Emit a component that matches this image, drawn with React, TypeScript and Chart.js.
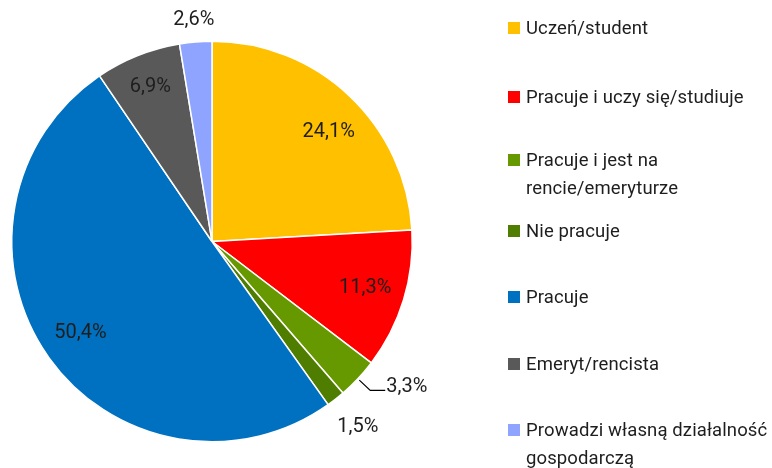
import React, { useEffect, useRef } from "react";
import { Chart, registerables } from "chart.js";

Chart.register(...registerables);

const categories = [
  "Uczeń/student",
  "Pracuje i uczy się/studiuje",
  "Pracuje i jest na rencie/emeryturze",
  "Nie pracuje",
  "Pracuje",
  "Emeryt/rencista",
  "Prowadzi własną działalność gospodarczą",
];
const legendLines = [
  ["Uczeń/student"],
  ["Pracuje i uczy się/studiuje"],
  ["Pracuje i jest na", "rencie/emeryturze"],
  ["Nie pracuje"],
  ["Pracuje"],
  ["Emeryt/rencista"],
  ["Prowadzi własną działalność", "gospodarczą"],
];
const values = [24.1, 11.3, 3.3, 1.5, 50.4, 6.9, 2.6];
const valueLabels = ["24,1%", "11,3%", "3,3%", "1,5%", "50,4%", "6,9%", "2,6%"];
const colors = ["#FFC000", "#FF0000", "#669900", "#4E7D00", "#0070C0", "#595959", "#8EA4FF"];

// layout (styles), not data
const labelRadius = [0.8, 0.8, 0, 1.18, 0.8, 0.83, 1.11];
const labelAngleShift = [0.06, 0, 0, 0, 0, 0, 0];
const leaderIndex = 2;
const legendTops = [14, 83, 146, 217, 283, 350, 416];
const FONT = "Roboto, 'Open Sans', sans-serif";
const TEXT = "#1E1E1E";

const labelPlugin = {
  id: "sliceLabels",
  afterDatasetsDraw(chart: any) {
    const ctx = chart.ctx;
    const meta = chart.getDatasetMeta(0);
    ctx.save();
    ctx.font = `20px ${FONT}`;
    ctx.fillStyle = TEXT;
    ctx.textBaseline = "middle";
    meta.data.forEach((el: any, i: number) => {
      const p = el.getProps(["x", "y", "startAngle", "endAngle", "outerRadius"], true);
      const mid = (p.startAngle + p.endAngle) / 2 + labelAngleShift[i];
      const c = Math.cos(mid);
      const s = Math.sin(mid);
      if (i === leaderIndex) {
        const x0 = p.x + c * p.outerRadius * 1.01;
        const y0 = p.y + s * p.outerRadius * 1.01;
        const x1 = p.x + c * p.outerRadius * 1.085;
        const y1 = p.y + s * p.outerRadius * 1.085;
        const x2 = x1 + 15;
        ctx.strokeStyle = "#000000";
        ctx.lineWidth = 1.2;
        ctx.beginPath();
        ctx.moveTo(x0, y0);
        ctx.lineTo(x1, y1);
        ctx.lineTo(x2, y1);
        ctx.stroke();
        ctx.textAlign = "left";
        ctx.fillText(valueLabels[i], x2 + 1, y1 - 3);
      } else {
        const r = p.outerRadius * labelRadius[i];
        ctx.textAlign = "center";
        ctx.fillText(valueLabels[i], p.x + c * r, p.y + s * r);
      }
    });
    ctx.restore();
  },
};

export default function App() {
  const ref = useRef<HTMLCanvasElement | null>(null);
  useEffect(() => {
    if (!ref.current) return;
    const chart = new Chart(ref.current, {
      type: "pie",
      data: {
        labels: categories,
        datasets: [
          {
            data: values,
            backgroundColor: colors,
            borderColor: "#FFFFFF",
            borderWidth: 1.5,
          },
        ],
      },
      options: {
        animation: false,
        responsive: false,
        maintainAspectRatio: false,
        layout: { padding: { left: 11, top: 40, right: 359, bottom: 25 } },
        plugins: {
          legend: { display: false },
          tooltip: { enabled: false },
        },
      },
      plugins: [labelPlugin],
    });
    return () => chart.destroy();
  }, []);

  return (
    <div
      style={{
        position: "fixed",
        left: 0,
        top: 0,
        width: 772,
        height: 468,
        background: "#FFFFFF",
        fontFamily: FONT,
      }}
    >
      <canvas ref={ref} width={772} height={468} style={{ position: "absolute", left: 0, top: 0 }} />
      {legendLines.map((lines, i) => (
        <div
          key={i}
          style={{
            position: "absolute",
            left: 508,
            top: legendTops[i],
            display: "flex",
            alignItems: "flex-start",
          }}
        >
          <div
            style={{
              width: 12,
              height: 12,
              background: colors[i],
              marginTop: 8,
              marginRight: 6,
              flex: "none",
            }}
          />
          <div
            style={{
              fontSize: 18.5,
              letterSpacing: 0.12,
              lineHeight: "28px",
              color: TEXT,
              whiteSpace: "nowrap",
            }}
          >
            {lines.map((l, j) => (
              <div key={j}>{l}</div>
            ))}
          </div>
        </div>
      ))}
    </div>
  );
}
